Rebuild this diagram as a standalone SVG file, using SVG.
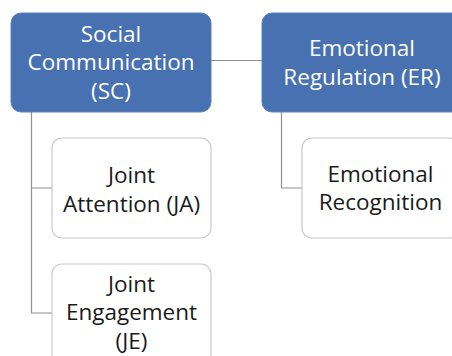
<svg xmlns="http://www.w3.org/2000/svg" width="452" height="356" viewBox="0 0 452 356">
  <style>
    .head rect { fill: #4771b0; stroke: #5b83c0; stroke-width: 1; }
    .head text { fill: #ffffff; }
    .child rect { fill: #ffffff; stroke: #c9c9c9; stroke-width: 1.2; }
    .child text { fill: #1a1a1a; }
    text { font-family: "Open Sans", "Liberation Sans", sans-serif; font-size: 22.5px; text-anchor: middle; }
    .conn { fill: none; stroke: #8f8f8f; stroke-width: 1.2; }
  </style>
  <rect width="452" height="356" fill="#ffffff"/>

  <!-- connectors -->
  <g id="connectors">
    <path class="conn" d="M211 60.5 H262"/>
    <path class="conn" d="M31.5 112 V313 H52 M31.5 188 H52"/>
    <path class="conn" d="M281.5 112 V188 H302"/>
  </g>

  <!-- top-level nodes -->
  <g id="sc" class="head">
    <rect x="11" y="13" width="200" height="99" rx="10"/>
    <text x="111" y="41.5">Social</text>
    <text x="111" y="70">Communication</text>
    <text x="111" y="98.5">(SC)</text>
  </g>
  <g id="er" class="head">
    <rect x="262" y="13" width="200" height="99" rx="10"/>
    <text x="362" y="55.5">Emotional</text>
    <text x="362" y="84.5">Regulation (ER)</text>
  </g>

  <!-- child nodes -->
  <g id="ja" class="child">
    <rect x="52" y="138" width="159" height="100" rx="10"/>
    <text x="131.5" y="183">Joint</text>
    <text x="131.5" y="212">Attention (JA)</text>
  </g>
  <g id="je" class="child">
    <rect x="52" y="264" width="159" height="110" rx="10"/>
    <text x="131.5" y="291.5">Joint</text>
    <text x="131.5" y="320">Engagement</text>
    <text x="131.5" y="348.5">(JE)</text>
  </g>
  <g id="erec" class="child">
    <rect x="302" y="138" width="157" height="100" rx="10"/>
    <text x="380.5" y="181.5">Emotional</text>
    <text x="380.5" y="209.5">Recognition</text>
  </g>
</svg>
